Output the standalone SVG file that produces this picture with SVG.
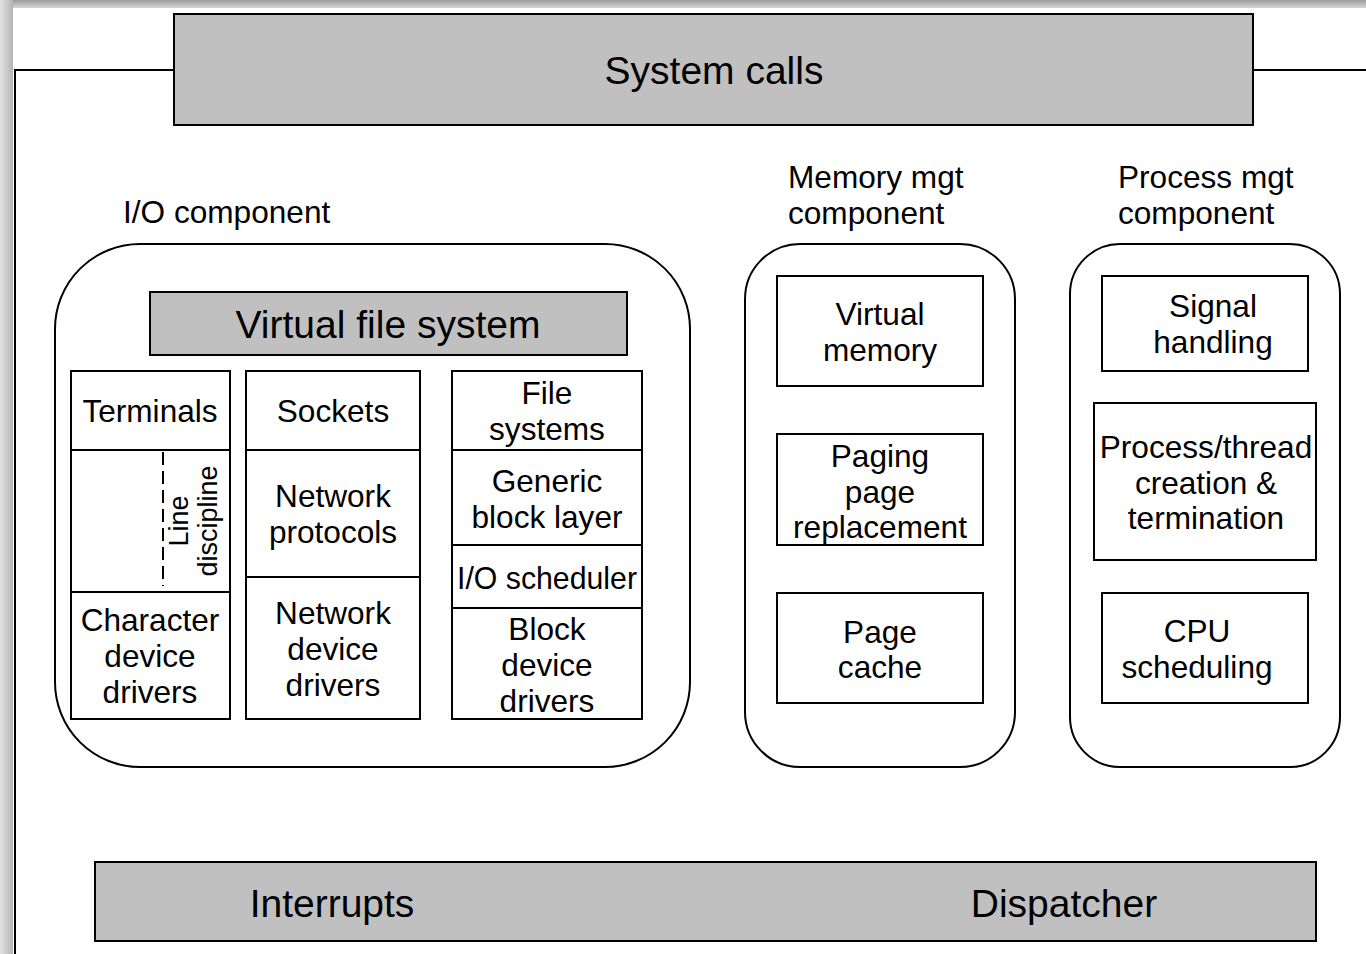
<svg xmlns="http://www.w3.org/2000/svg" width="1366" height="954" viewBox="0 0 1366 954">
<defs>
<linearGradient id="gTop" x1="0" y1="0" x2="0" y2="1"><stop offset="0" stop-color="#9c9c9c"/><stop offset="1" stop-color="#d4d4d4"/></linearGradient>
<linearGradient id="gLeft" x1="0" y1="0" x2="1" y2="0"><stop offset="0" stop-color="#e2e2e2"/><stop offset="1" stop-color="#b4b4b4"/></linearGradient>
</defs>
<style>
.t{font-family:"Liberation Sans",Arial,sans-serif;font-size:31.6px;fill:#000;text-anchor:middle}
.big{font-size:39px}
.rot{font-size:27px}
.lab{text-anchor:start}
.gray{fill:#c0c0c0;stroke:#000;stroke-width:2}
.box{fill:#fff;stroke:#000;stroke-width:2}
.ln{fill:none;stroke:#000;stroke-width:2}
</style>
<rect x="0" y="0" width="1366" height="954" fill="#fff"/>
<rect x="0" y="0" width="1366" height="8" fill="url(#gTop)"/>
<rect x="0" y="0" width="13" height="954" fill="url(#gLeft)"/>
<g id="frame">
<polyline class="ln" points="174,70 15,70 15,954"/>
<line class="ln" x1="1253" y1="70" x2="1366" y2="70"/>
</g>
<g id="system-calls">
<rect class="gray" x="174" y="14" width="1079" height="111"/>
<text class="t big" x="714" y="84">System calls</text>
</g>
<g id="io-component">
<text class="t lab" x="123" y="223">I/O component</text>
<rect class="ln" x="55" y="244" width="635" height="523" rx="85" ry="85"/>
</g>
<g id="vfs">
<rect class="gray" x="150" y="292" width="477" height="63"/>
<text class="t big" x="388" y="338">Virtual file system</text>
</g>
<g id="terminals">
<rect class="box" x="71" y="371" width="159" height="79"/>
<text class="t" x="150" y="422">Terminals</text>
</g>
<g id="line-discipline">
<rect class="box" x="71" y="450" width="159" height="142"/>
<line x1="163" y1="452" x2="163" y2="586" stroke="#000" stroke-width="2" stroke-dasharray="13,6"/>
<text class="t rot" transform="translate(188,521) rotate(-90)">Line</text>
<text class="t rot" transform="translate(217,521) rotate(-90)">discipline</text>
</g>
<g id="char-drivers">
<rect class="box" x="71" y="592" width="159" height="127"/>
<text class="t" x="150" y="631">Character</text>
<text class="t" x="150" y="667">device</text>
<text class="t" x="150" y="703">drivers</text>
</g>
<g id="sockets">
<rect class="box" x="246" y="371" width="174" height="79"/>
<text class="t" x="333" y="422">Sockets</text>
</g>
<g id="net-protocols">
<rect class="box" x="246" y="450" width="174" height="127"/>
<text class="t" x="333" y="507">Network</text>
<text class="t" x="333" y="543">protocols</text>
</g>
<g id="net-drivers">
<rect class="box" x="246" y="577" width="174" height="142"/>
<text class="t" x="333" y="624">Network</text>
<text class="t" x="333" y="660">device</text>
<text class="t" x="333" y="696">drivers</text>
</g>
<g id="file-systems">
<rect class="box" x="452" y="371" width="190" height="79"/>
<text class="t" x="547" y="404">File</text>
<text class="t" x="547" y="440">systems</text>
</g>
<g id="generic-block">
<rect class="box" x="452" y="450" width="190" height="95"/>
<text class="t" x="547" y="492">Generic</text>
<text class="t" x="547" y="528">block layer</text>
</g>
<g id="io-scheduler">
<rect class="box" x="452" y="545" width="190" height="63"/>
<text class="t" x="547" y="589" textLength="180" lengthAdjust="spacingAndGlyphs">I/O scheduler</text>
</g>
<g id="block-drivers">
<rect class="box" x="452" y="608" width="190" height="111"/>
<text class="t" x="547" y="640">Block</text>
<text class="t" x="547" y="676">device</text>
<text class="t" x="547" y="712">drivers</text>
</g>
<g id="memory-component">
<text class="t lab" x="788" y="188">Memory mgt</text>
<text class="t lab" x="788" y="224">component</text>
<rect class="ln" x="745" y="244" width="270" height="523" rx="55" ry="55"/>
</g>
<g id="virtual-memory">
<rect class="box" x="777" y="276" width="206" height="110"/>
<text class="t" x="880" y="325">Virtual</text>
<text class="t" x="880" y="361">memory</text>
</g>
<g id="paging">
<rect class="box" x="777" y="434" width="206" height="111"/>
<text class="t" x="880" y="467">Paging</text>
<text class="t" x="880" y="503">page</text>
<text class="t" x="880" y="538">replacement</text>
</g>
<g id="page-cache">
<rect class="box" x="777" y="593" width="206" height="110"/>
<text class="t" x="880" y="643">Page</text>
<text class="t" x="880" y="678">cache</text>
</g>
<g id="process-component">
<text class="t lab" x="1118" y="188">Process mgt</text>
<text class="t lab" x="1118" y="224">component</text>
<rect class="ln" x="1070" y="244" width="270" height="523" rx="50" ry="50"/>
</g>
<g id="signal-handling">
<rect class="box" x="1102" y="276" width="206" height="95"/>
<text class="t" x="1213" y="317">Signal</text>
<text class="t" x="1213" y="353">handling</text>
</g>
<g id="process-thread">
<rect class="box" x="1094" y="403" width="222" height="157"/>
<text class="t" x="1206" y="458">Process/thread</text>
<text class="t" x="1206" y="494">creation &amp;</text>
<text class="t" x="1206" y="529">termination</text>
</g>
<g id="cpu-scheduling">
<rect class="box" x="1102" y="593" width="206" height="110"/>
<text class="t" x="1197" y="642">CPU</text>
<text class="t" x="1197" y="678">scheduling</text>
</g>
<g id="interrupts-dispatcher">
<rect class="gray" x="95" y="862" width="1221" height="79"/>
<text class="t big" x="332" y="917">Interrupts</text>
<text class="t big" x="1064" y="917">Dispatcher</text>
</g>
<g id="connectors"></g>
</svg>
